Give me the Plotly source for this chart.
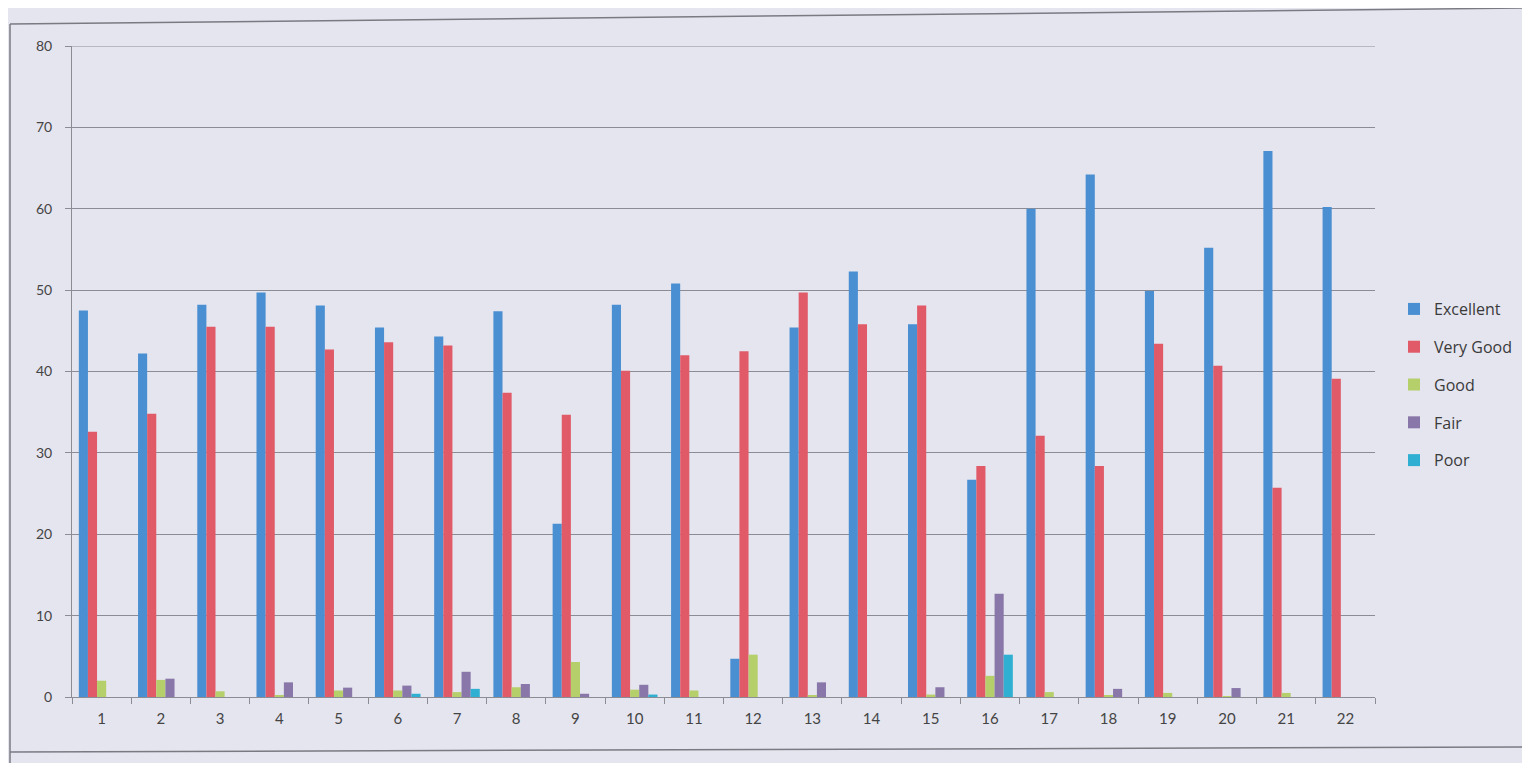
import plotly.graph_objects as go

categories = [str(i) for i in range(1, 23)]
excellent = [47.5, 42.2, 48.2, 49.7, 48.1, 45.4, 44.3, 47.4, 21.3, 48.2, 50.8, 4.7, 45.4, 52.3, 45.8, 26.7, 60.0, 64.2, 49.9, 55.2, 67.1, 60.2]
very_good = [32.6, 34.8, 45.5, 45.5, 42.7, 43.6, 43.2, 37.4, 34.7, 40.1, 42.0, 42.5, 49.7, 45.8, 48.1, 28.4, 32.1, 28.4, 43.4, 40.7, 25.7, 39.1]
good = [2.0, 2.1, 0.7, 0.2, 0.8, 0.8, 0.6, 1.2, 4.3, 0.9, 0.8, 5.2, 0.2, 0.0, 0.3, 2.6, 0.6, 0.2, 0.5, 0.1, 0.5, 0.0]
fair = [0.0, 2.25, 0.0, 1.8, 1.15, 1.4, 3.1, 1.6, 0.4, 1.5, 0.0, 0.0, 1.8, 0.0, 1.2, 12.7, 0.0, 1.0, 0.0, 1.1, 0.0, 0.0]
poor = [0.0, 0.0, 0.0, 0.0, 0.0, 0.4, 1.0, 0.0, 0.0, 0.3, 0.0, 0.0, 0.0, 0.0, 0.0, 5.2, 0.0, 0.0, 0.0, 0.0, 0.0, 0.0]
y_max = 80

series = [
    ("Excellent", excellent, "#4a8fd2"),
    ("Very Good", very_good, "#e05a68"),
    ("Good", good, "#b5cf6a"),
    ("Fair", fair, "#8877a8"),
    ("Poor", poor, "#2fb0d2"),
]

fig = go.Figure()
for name, vals, col in series:
    fig.add_trace(go.Bar(x=categories, y=vals, name=name, marker_color=col,
                         marker_line_width=0, legendgroup=name))

bg = "#e5e5ef"
grid = "#8c8c94"
fig.update_layout(
    width=1530, height=763,
    paper_bgcolor=bg, plot_bgcolor=bg,
    margin=dict(l=64, r=163, t=38, b=74),
    barmode="group", bargap=0.23, bargroupgap=0,
    font=dict(family="Lato, Open Sans, sans-serif", size=15, color="#444444"),
    legend=dict(x=1.0146, y=0.48, xanchor="left", yanchor="middle",
                bgcolor="rgba(0,0,0,0)",
                font=dict(family="Open Sans, sans-serif", size=16, color="#3a3a3a"),
                tracegroupgap=14, itemwidth=30),
    showlegend=True,
)
fig.update_xaxes(type="category", showgrid=False, showline=True, linecolor=grid, linewidth=1,
                 ticks="outside", tickson="boundaries", ticklen=6, tickcolor=grid,
                 tickfont=dict(size=15, color="#444444"), ticklabelstandoff=8)
fig.update_yaxes(range=[0, y_max], dtick=10, showgrid=True, gridcolor=grid, gridwidth=1,
                 showline=True, linecolor=grid, linewidth=1, zeroline=False,
                 ticks="outside", ticklen=6, tickcolor=grid,
                 tickfont=dict(size=14, color="#444444"), ticklabelstandoff=10)

# top gridline at the axis maximum
fig.add_shape(type="line", xref="paper", yref="y", x0=0, x1=1, y0=y_max, y1=y_max,
              line=dict(color=grid, width=1))

# outer chart frame (scanned sheet border)
fig.add_shape(type="line", xref="paper", yref="paper", x0=-62/1303, x1=1458/1303,
              y0=(697-24)/651, y1=(697-8)/651, line=dict(color="#7a7a82", width=1.5))
fig.add_shape(type="line", xref="paper", yref="paper", x0=-62/1303, x1=-62/1303,
              y0=(697-24)/651, y1=-66/651, line=dict(color="#7a7a82", width=1.5))
fig.add_shape(type="line", xref="paper", yref="paper", x0=-62/1303, x1=1458/1303,
              y0=(697-752)/651, y1=(697-747)/651, line=dict(color="#7a7a82", width=1.5))

fig.write_html("out.html")
